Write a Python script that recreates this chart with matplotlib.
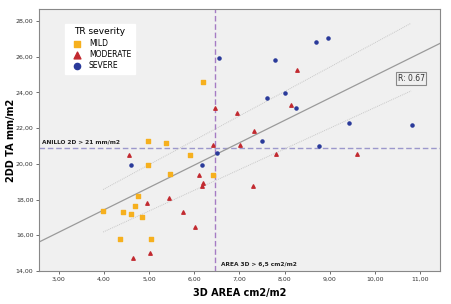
import matplotlib.pyplot as plt
from matplotlib.ticker import FuncFormatter

# Data
mild_x = [4.98, 5.37, 5.91, 4.98, 5.46, 6.42, 4.76, 3.97, 4.43, 4.69, 4.60, 4.83, 4.35, 5.03, 6.20]
mild_y = [21.27, 21.19, 20.52, 19.96, 19.42, 19.40, 18.20, 17.34, 17.31, 17.62, 17.21, 17.05, 15.78, 15.78, 24.60]

moderate_x = [4.56, 4.95, 5.45, 5.74, 6.01, 4.64, 5.02, 6.10, 6.19, 6.17,
              6.42, 6.46, 6.94, 7.32, 8.14, 8.28, 7.01, 7.80, 7.29, 9.61]
moderate_y = [20.52, 17.79, 18.11, 17.33, 16.47, 14.73, 15.01, 19.40, 18.93, 18.75,
              21.08, 23.10, 22.82, 21.83, 23.28, 25.26, 21.08, 20.56, 18.73, 20.54]

severe_x = [4.59, 6.16, 6.50, 7.50, 6.55, 7.78, 7.61, 8.00, 8.26, 8.70, 8.96, 9.42, 10.81, 8.77]
severe_y = [19.96, 19.96, 20.58, 21.27, 25.92, 25.81, 23.68, 23.94, 23.10, 26.80, 27.05, 22.29, 22.16, 21.02]

fit_x = [2.56, 11.44]
fit_y = [15.62, 26.74]
ci_x = [3.98, 10.80]
ci_upper = [18.56, 27.87]
ci_lower = [16.18, 24.08]

cut_area = 6.46
cut_anillo = 20.86

fig = plt.figure(figsize=(4.51, 3.04), dpi=100)
ax = fig.add_axes([0.0865, 0.1086, 0.889, 0.8614])
ax.set_facecolor("#f0f0f0")

ax.plot(fit_x, fit_y, color="#9a9a9a", lw=0.9, zorder=2)
ax.plot(ci_x, ci_upper, color="#c8c8c8", lw=0.7, ls=(0, (1, 1)), zorder=2)
ax.plot(ci_x, ci_lower, color="#c8c8c8", lw=0.7, ls=(0, (1, 1)), zorder=2)

ax.axvline(cut_area, color="#a57cc4", lw=1.0, ls=(0, (4, 2)), zorder=1)
ax.axhline(cut_anillo, color="#9c98cc", lw=1.0, ls=(0, (4, 2)), zorder=1)

ax.scatter(mild_x, mild_y, marker="s", s=6, color="#f6b01e", label="MILD", zorder=3)
ax.scatter(moderate_x, moderate_y, marker="^", s=6, color="#c22a30", label="MODERATE", zorder=3)
ax.scatter(severe_x, severe_y, marker="o", s=5, color="#2a3a9a", label="SEVERE", zorder=3)

ax.set_xlim(2.56, 11.44)
ax.set_ylim(14.0, 28.66)
ax.set_xticks([3, 4, 5, 6, 7, 8, 9, 10, 11])
ax.set_yticks([14, 16, 18, 20, 22, 24, 26, 28])
fmt = FuncFormatter(lambda v, p: f"{v:.2f}".replace(".", ","))
ax.xaxis.set_major_formatter(fmt)
ax.yaxis.set_major_formatter(fmt)
ax.tick_params(labelsize=4.5, length=2.5, width=0.6, pad=1.5, color="#555555", labelcolor="#333333")
for s in ax.spines.values():
    s.set_color("#888888")
    s.set_linewidth(0.8)

ax.set_xlabel("3D AREA cm2/m2", fontsize=7, fontweight="bold")
ax.set_ylabel("2DD TA mm/m2", fontsize=7, fontweight="bold")
ax.xaxis.set_label_coords(0.5, -0.065)
ax.yaxis.set_label_coords(-0.058, 0.5)

ax.text(2.63, cut_anillo + 0.25, "ANILLO 2D > 21 mm/m2", fontsize=4.2, fontweight="bold", color="#222222")
ax.text(cut_area + 0.12, 14.3, "AREA 3D > 6,5 cm2/m2", fontsize=4.2, fontweight="bold", color="#222222")

ax.text(10.80, 24.78, "R: 0.67", fontsize=5.5, ha="center", va="center", color="#333333",
        bbox=dict(boxstyle="square,pad=0.25", fc="#f0f0f0", ec="#888888", lw=0.8))

leg = ax.legend(title="TR severity", loc="upper left", bbox_to_anchor=(0.065, 0.945),
                fontsize=5.5, title_fontsize=6.5, frameon=True, fancybox=False,
                edgecolor="white", framealpha=1, markerscale=2.0,
                handletextpad=0.6, labelspacing=0.3, borderpad=0.5, borderaxespad=0)

fig.savefig("out.png", dpi=100)
